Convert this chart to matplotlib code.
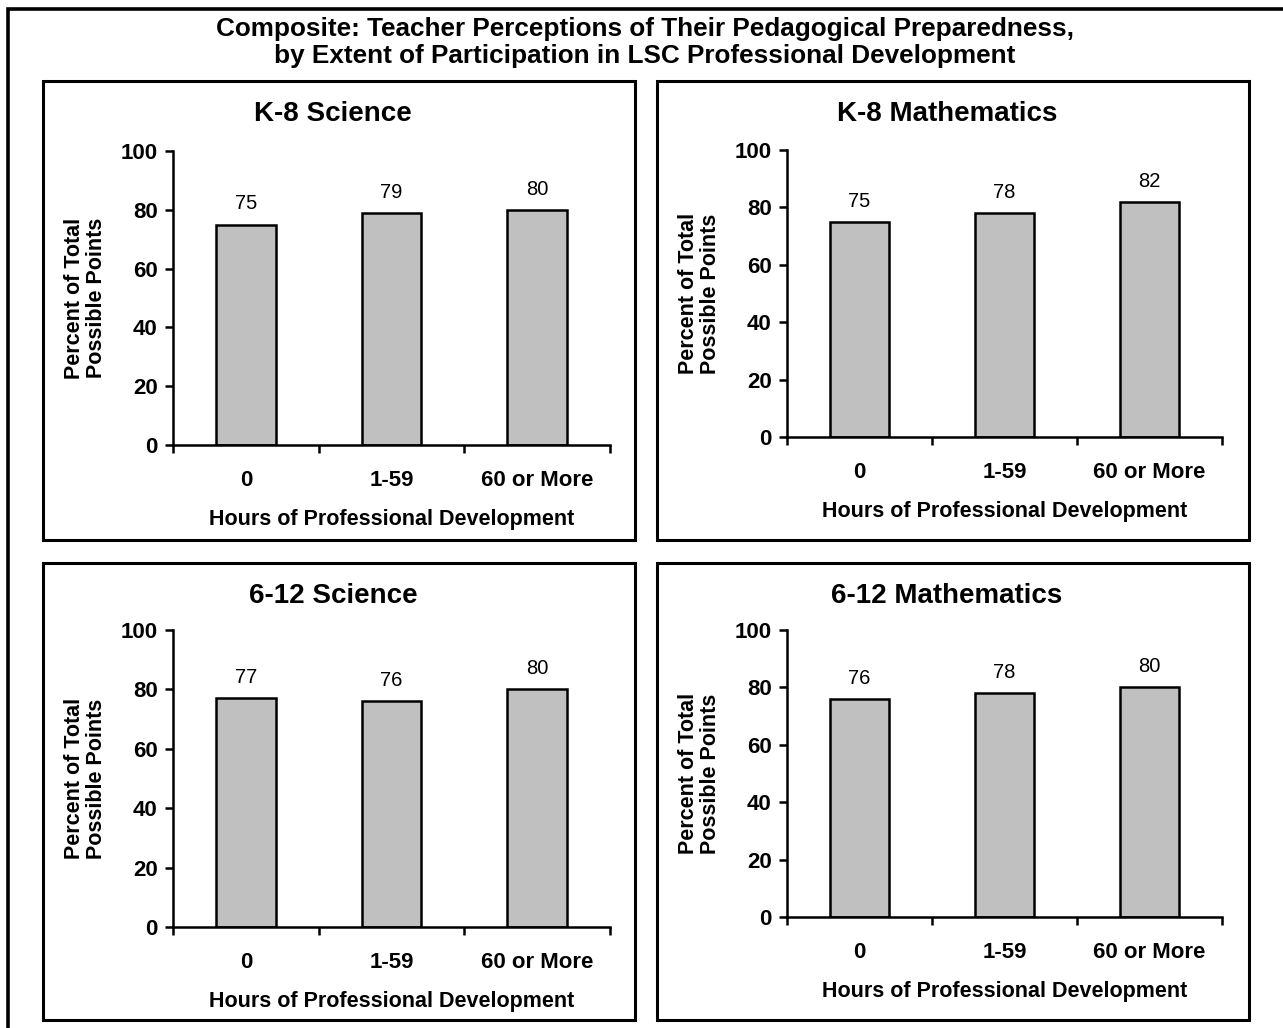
import matplotlib.pyplot as plt
from matplotlib.patches import Rectangle

plt.rcParams['font.family'] = ['Liberation Sans', 'DejaVu Sans']

# hours-of-PD groups and composite scores per panel
categories = ['0', '1-59', '60 or More']
panel_titles = ['K-8 Science', 'K-8 Mathematics', '6-12 Science', '6-12 Mathematics']
k8_science = [75, 79, 80]
k8_math = [75, 78, 82]
hs_science = [77, 76, 80]
hs_math = [76, 78, 80]
panel_values = [k8_science, k8_math, hs_science, hs_math]

W, H = 1283, 1028
fig = plt.figure(figsize=(W / 100, H / 100), dpi=100)


def fx(x):
    return x / W


def fy(y):
    return 1 - y / H


# outer frame (runs off the right and bottom edges)
fig.patches.append(Rectangle((fx(8), fy(1040)), fx(1300) - fx(8), fy(9) - fy(1040),
                             transform=fig.transFigure, fill=False, lw=2.6, ec='black'))

fig.text(fx(645), fy(29), 'Composite: Teacher Perceptions of Their Pedagogical Preparedness,',
         ha='center', va='center', fontsize=18.8, fontweight='bold')
fig.text(fx(645), fy(56), 'by Extent of Participation in LSC Professional Development',
         ha='center', va='center', fontsize=18.8, fontweight='bold')

# panel box (x0, y0, x1, y1) and axes (left, right, y at 0, y at 100), in pixels
boxes = [(43, 81, 635, 540), (657, 81, 1249, 540),
         (43, 563, 635, 1020), (657, 563, 1249, 1020)]
axes_px = [(173, 610, 445, 151), (787, 1222, 437, 150),
           (173, 610, 927, 630), (787, 1222, 917, 630)]

for (bx0, by0, bx1, by1), (l, r, y0, y1), title, vals in zip(boxes, axes_px, panel_titles, panel_values):
    fig.patches.append(Rectangle((fx(bx0), fy(by1)), fx(bx1) - fx(bx0), fy(by0) - fy(by1),
                                 transform=fig.transFigure, fill=False, lw=2.2, ec='black'))
    fig.text(fx((bx0 + bx1) / 2 - 6), fy(by0 + 33), title, ha='center', va='center',
             fontsize=20, fontweight='bold')

    ax = fig.add_axes([fx(l), fy(y0), fx(r) - fx(l), fy(y1) - fy(y0)])
    x = range(len(categories))
    ax.bar(x, vals, width=0.41, color='#c0c0c0', edgecolor='black', linewidth=1.8)
    for xi, v in zip(x, vals):
        ax.annotate(str(v), (xi, v), xytext=(0, 8), textcoords='offset points',
                    ha='center', va='bottom', fontsize=14.5)

    ax.set_xlim(-0.5, 2.5)
    ax.set_ylim(0, 100)
    ax.set_yticks(range(0, 101, 20))
    ax.set_xticks(list(x))
    ax.set_xticklabels(categories, fontsize=16, fontweight='bold')
    ax.set_xticks([-0.5, 0.5, 1.5, 2.5], minor=True)
    ax.tick_params(axis='x', which='major', length=0, pad=18)
    ax.tick_params(axis='x', which='minor', direction='out', length=6, width=1.8)
    ax.tick_params(axis='y', direction='out', length=6, width=1.8, pad=5)
    for lab in ax.get_yticklabels():
        lab.set_fontsize(16)
        lab.set_fontweight('bold')
    for s in ['top', 'right']:
        ax.spines[s].set_visible(False)
    for s in ['left', 'bottom']:
        ax.spines[s].set_linewidth(1.8)
    ax.set_xlabel('Hours of Professional Development', fontsize=15.5, fontweight='bold', labelpad=13)
    ax.set_ylabel('Percent of Total\nPossible Points', fontsize=15.5, fontweight='bold',
                  labelpad=10, linespacing=1.05)

fig.savefig('out.png', dpi=100)
